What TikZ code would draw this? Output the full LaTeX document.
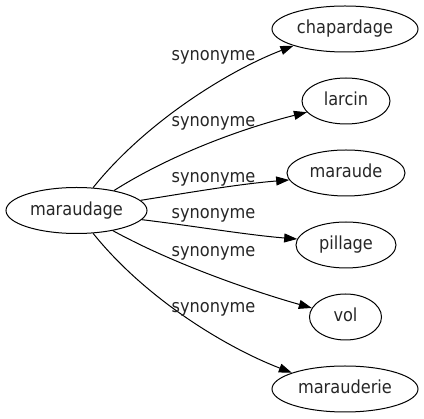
\documentclass[tikz,border=0pt]{standalone}
\usepackage{fontspec}
\setmainfont{DejaVu Sans Condensed}
\usetikzlibrary{arrows.meta,shapes.geometric}
\begin{document}
\begin{tikzpicture}[x=1pt,y=-1pt,
  word/.style={ellipse,draw,line width=1pt,inner sep=0pt,minimum height=46pt,
    text height=13.5pt,text depth=3.5pt,font=\fontsize{18}{20}\selectfont,text=black!85},
  rel/.style={font=\fontsize{18}{20}\selectfont,text=black!85,anchor=base,inner sep=0pt},
  edge/.style={line width=1pt,-{Triangle[length=13pt,width=9pt]}}]
\useasboundingbox (0,0) rectangle (424,419);
\node[word,minimum width=141pt] (m) at (76.5,210.5) {maraudage};
\node[word,minimum width=146pt] (chap) at (345,29) {chapardage};
\node[word,minimum width=88pt] (larc) at (346,101) {larcin};
\node[word,minimum width=118pt] (marde) at (346,173) {maraude};
\node[word,minimum width=100pt] (pill) at (346,245) {pillage};
\node[word,minimum width=72pt] (vol) at (345.5,317) {vol};
\node[word,minimum width=146pt] (maur) at (345,389) {marauderie};

\draw[edge] (m.54) .. controls +(53,-66) and +(-65,25) .. (chap.198);
\draw[edge] (m.28) .. controls +(60,-38) and +(-60,15) .. (larc.196);
\draw[edge] (m.9) .. controls +(50,-8) and +(-50,4) .. (marde.187);
\draw[edge] (m.-8) .. controls +(50,6) and +(-50,-4) .. (pill.173);
\draw[edge] (m.-29) .. controls +(60,33) and +(-60,-17) .. (vol.165);
\draw[edge] (m.-54) .. controls +(53,66) and +(-65,-25) .. (maur.163);

\node[rel] (l1) at (213.5,60.5) {synonyme};
\node[rel] (l2) at (213.5,126.7) {synonyme};
\node[rel] (l3) at (213.5,182.7) {synonyme};
\node[rel] (l4) at (213.5,218.7) {synonyme};
\node[rel] (l5) at (213.5,256.3) {synonyme};
\node[rel] (l6) at (213.5,313) {synonyme};
\end{tikzpicture}
\end{document}
